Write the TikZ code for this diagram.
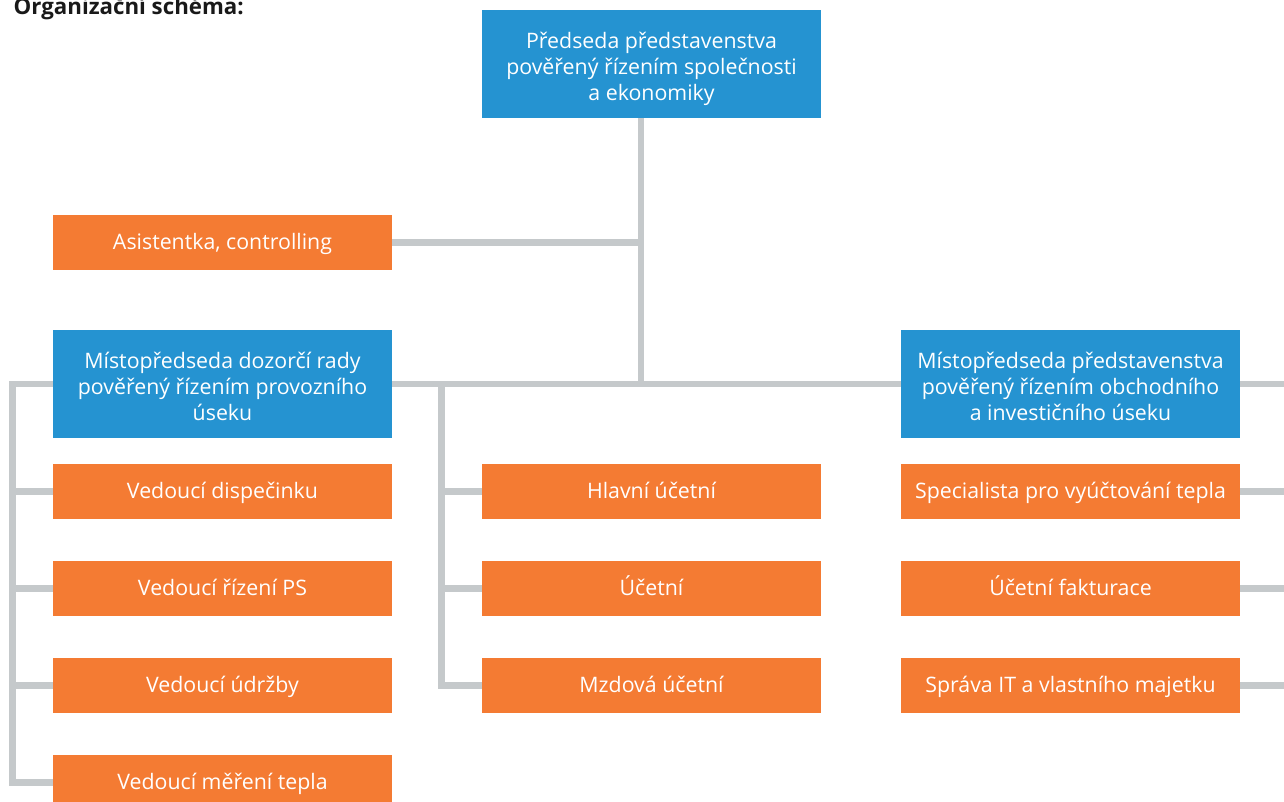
\documentclass[tikz,border=0pt]{standalone}
\usepackage{fontspec}
\setmainfont{Open Sans}
\definecolor{bosblue}{HTML}{2593D1}
\definecolor{bosorange}{HTML}{F47B33}
\definecolor{bosline}{HTML}{C5C9CB}
\newcommand{\headtop}{\rule{0pt}{20pt}}
\newcommand{\headend}{\rule[-4.6pt]{0pt}{0pt}}

\begin{document}
\begin{tikzpicture}[x=0.75pt,y=-0.75pt,
  box/.style={shape=rectangle,minimum width=254.25pt,inner sep=0pt,
    text=white,align=center,font=\fontsize{16}{19.5}\selectfont},
  head/.style={box,fill=bosblue,minimum height=81pt},
  staff/.style={box,fill=bosorange,minimum height=41.25pt,text height=11.2pt,text depth=0pt},
  link/.style={draw=bosline,line width=4.9pt}]
\useasboundingbox (0,0) rectangle (1284,802);

\node[anchor=base west,font=\bfseries\fontsize{16.7}{20}\selectfont,text=black!90] (title) at (9,15) {Organizační schéma:};

\node[head] (top) at (651.5,64) {\headtop Předseda představenstva\\pověřený řízením společnosti\\a ekonomiky\headend};
\node[staff] (asist) at (222.5,242.5) {Asistentka, controlling};
\node[head] (lhead) at (222.5,384) {\headtop Místopředseda dozorčí rady\\pověřený řízením provozního\\úseku\headend};
\node[head] (rhead) at (1070.5,384) {\headtop Místopředseda představenstva\\pověřený řízením obchodního\\a investičního úseku\headend};

\node[staff] (l1) at (222.5,491.5) {Vedoucí dispečinku};
\node[staff] (l2) at (222.5,588.5) {Vedoucí řízení PS};
\node[staff] (l3) at (222.5,685.5) {Vedoucí údržby};
\node[staff] (l4) at (222.5,782.5) {Vedoucí měření tepla};

\node[staff] (m1) at (651.5,491.5) {Hlavní účetní};
\node[staff] (m2) at (651.5,588.5) {Účetní};
\node[staff] (m3) at (651.5,685.5) {Mzdová účetní};

\node[staff] (r1) at (1070.5,491.5) {Specialista pro vyúčtování tepla};
\node[staff] (r2) at (1070.5,588.5) {Účetní fakturace};
\node[staff] (r3) at (1070.5,685.5) {Správa IT a vlastního majetku};

\coordinate (hub) at (641,384);
\coordinate (lrail) at (12.5,384);
\coordinate (mrail) at (441.5,384);
\coordinate (redge) at (1290,384);

% spine
\path[link] (top.south -| hub) -- (hub);
\path[link] (asist.east) -- (asist.east -| hub);
\path[link] (lhead.east |- hub) -- (rhead.west |- hub);
% left rail
\path[link] (lhead.west |- hub) -- (lrail) |- (l4.west);
\path[link] (lrail |- l1.west) -- (l1.west);
\path[link] (lrail |- l2.west) -- (l2.west);
\path[link] (lrail |- l3.west) -- (l3.west);
% middle rail
\path[link] (mrail) |- (m3.west);
\path[link] (mrail |- m1.west) -- (m1.west);
\path[link] (mrail |- m2.west) -- (m2.west);
% right side
\path[link] (rhead.east |- hub) -- (redge);
\path[link] (r1.east) -- (r1.east -| redge);
\path[link] (r2.east) -- (r2.east -| redge);
\path[link] (r3.east) -- (r3.east -| redge);
\end{tikzpicture}
\end{document}
